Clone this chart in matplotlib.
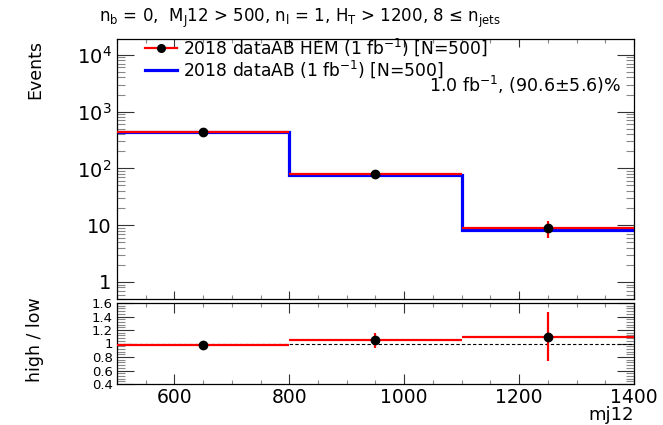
import numpy as np
import matplotlib.pyplot as plt
from matplotlib.ticker import FixedLocator, FixedFormatter, MultipleLocator, NullFormatter
from matplotlib.lines import Line2D

plt.rcParams['font.family'] = ['DejaVu Sans']
plt.rcParams['mathtext.fontset'] = 'dejavusans'

# histogram bins in mj12
bin_edges = [500, 800, 1100, 1400]
hem_counts = [430, 81, 9.0]        # 2018 dataAB HEM
hem_errors = [20.7, 9.0, 3.0]
full_counts = [440, 77, 8.1]       # 2018 dataAB
ratio_values = [0.98, 1.047, 1.10]
ratio_errors = [0.03, 0.11, 0.36]

log_ticks = [1, 10, 100, 1000, 10000]
log_labels = ['1', '10', r'$10^2$', r'$10^3$', r'$10^4$']
ratio_ticks = [0.4, 0.6, 0.8, 1.0, 1.2, 1.4, 1.6]
ratio_labels = ['0.4', '0.6', '0.8', '1', '1.2', '1.4', '1.6']

W, H = 663, 425
fig = plt.figure(figsize=(W / 100, H / 100), dpi=100)


def px_axes(left, top, right, bottom):
    return fig.add_axes([left / W, 1 - bottom / H, (right - left) / W, (bottom - top) / H])


ax = px_axes(117, 39, 634, 299)
rax = px_axes(117, 303, 634, 384)

edges = np.array(bin_edges)
centers = (edges[:-1] + edges[1:]) / 2
half_width = (edges[1:] - edges[:-1]) / 2

# main panel
ax.stairs(full_counts, edges, color='#0000ff', lw=2.3, baseline=None, zorder=2)
ax.errorbar(centers, hem_counts, xerr=half_width, yerr=hem_errors, fmt='o', color='black',
            ecolor='#ff0000', elinewidth=1.6, markersize=6, capsize=0, zorder=3)
ax.set_yscale('log')
ax.set_xlim(500, 1400)
ax.set_ylim(0.5, 1.9e4)
ax.yaxis.set_major_locator(FixedLocator(log_ticks))
ax.yaxis.set_major_formatter(FixedFormatter(log_labels))
ax.xaxis.set_major_locator(MultipleLocator(200))
ax.xaxis.set_minor_locator(MultipleLocator(50))
ax.xaxis.set_major_formatter(NullFormatter())

legend_handles = [
    Line2D([0], [0], color='#ff0000', lw=1.6, marker='o', markerfacecolor='black',
           markeredgecolor='black', markersize=5.5),
    Line2D([0], [0], color='#0000ff', lw=2.3),
]
legend_labels = [r'2018 dataAB HEM (1 fb$^{-1}$) [N=500]', r'2018 dataAB (1 fb$^{-1}$) [N=500]']
ax.legend(legend_handles, legend_labels, loc='upper left', bbox_to_anchor=(0.04, 1.035),
          frameon=False, fontsize=12.3, handlelength=1.9, handletextpad=0.35,
          labelspacing=0.0, borderaxespad=0)

ax.text(0.975, 0.823, r'1.0 fb$^{-1}$, (90.6$\pm$5.6)%', transform=ax.transAxes,
        ha='right', va='center', fontsize=12.5)

# ratio panel
rax.axhline(1.0, color='black', lw=0.8, ls=(0, (3, 2)))
rax.errorbar(centers, ratio_values, xerr=half_width, yerr=ratio_errors, fmt='o', color='black',
             ecolor='#ff0000', elinewidth=1.6, markersize=6, capsize=0, zorder=3)
rax.set_xlim(500, 1400)
rax.set_ylim(0.4, 1.6)
rax.yaxis.set_major_locator(FixedLocator(ratio_ticks))
rax.yaxis.set_major_formatter(FixedFormatter(ratio_labels))
rax.yaxis.set_minor_locator(MultipleLocator(0.04))
rax.xaxis.set_major_locator(MultipleLocator(200))
rax.xaxis.set_minor_locator(MultipleLocator(50))

for a in (ax, rax):
    a.tick_params(which='both', direction='in', top=True, right=True, labelsize=14)
    a.tick_params(which='major', color='#333333', width=0.8)
    a.tick_params(which='minor', color='#888888', width=0.8)
    for s in a.spines.values():
        s.set_linewidth(0.9)
ax.tick_params(axis='y', which='major', length=12, pad=4)
ax.tick_params(axis='y', which='minor', length=6)
ax.tick_params(axis='x', which='major', length=6)
ax.tick_params(axis='x', which='minor', length=3)
rax.tick_params(axis='y', which='major', length=12, pad=3, labelsize=9.5)
rax.tick_params(axis='y', which='minor', length=6)
rax.tick_params(axis='x', which='major', length=7, pad=3, labelsize=13.5)
rax.tick_params(axis='x', which='minor', length=3)

fig.text(300 / W, 1 - 18 / H,
         r'$\mathregular{n_b}$ = 0,  $\mathregular{M_J}$12 > 500, $\mathregular{n_l}$ = 1, '
         r'$\mathregular{H_T}$ > 1200, 8 ≤ $\mathregular{n_{jets}}$',
         ha='center', va='center', fontsize=12)
fig.text(35 / W, 1 - 40 / H, 'Events', rotation=90, ha='center', va='top', fontsize=12.5)
fig.text(35 / W, 1 - 340 / H, 'high / low', rotation=90, ha='center', va='center', fontsize=12.5)
fig.text(634 / W, 1 - 415 / H, 'mj12', ha='right', va='center', fontsize=13)

fig.savefig('out.png', dpi=100)
